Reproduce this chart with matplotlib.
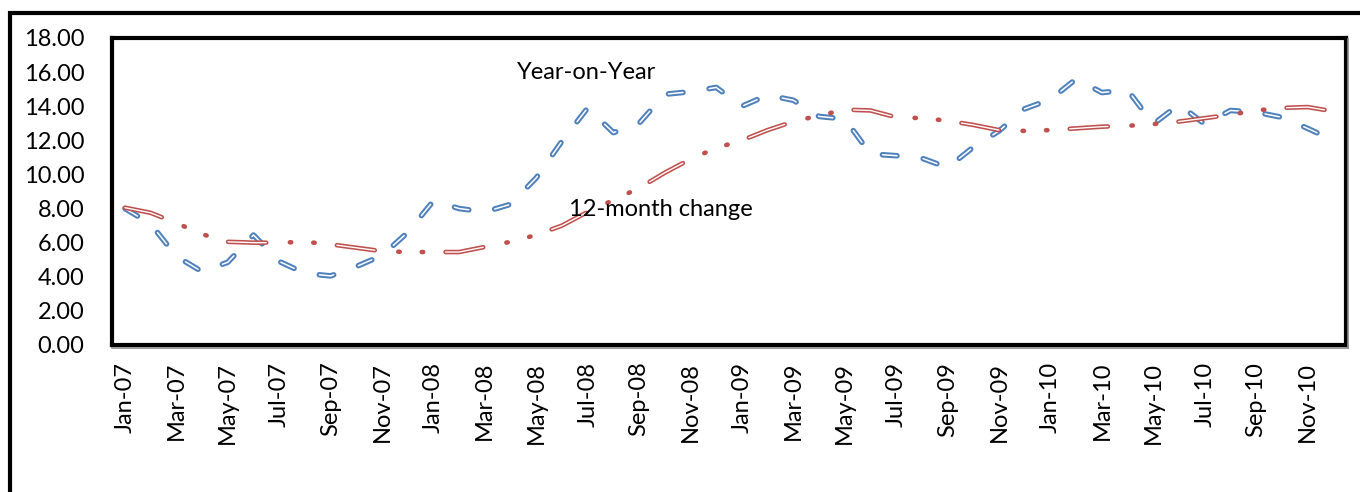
import matplotlib
matplotlib.use("Agg")
import matplotlib.pyplot as plt
from matplotlib.patches import Rectangle
from matplotlib.lines import Line2D

plt.rcParams['font.family'] = ['Lato', 'DejaVu Sans']
plt.rcParams['lines.scale_dashes'] = False

months = [f"{m}-{y:02d}" for y in (7, 8, 9, 10)
          for m in ("Jan", "Feb", "Mar", "Apr", "May", "Jun",
                    "Jul", "Aug", "Sep", "Oct", "Nov", "Dec")]

year_on_year = [8.0, 7.1, 5.2, 4.3, 4.85, 6.45, 4.9, 4.2, 4.05, 4.6, 5.25, 6.6,
                8.45, 8.0, 7.8, 8.25, 9.8, 11.95, 13.9, 12.45, 13.0, 14.7, 14.85, 15.1,
                14.0, 14.65, 14.35, 13.4, 13.25, 11.2, 11.1, 10.95, 10.4, 11.6, 12.55, 13.85,
                14.4, 15.6, 14.8, 14.95, 12.95, 14.1, 12.95, 13.75, 13.65, 13.35, 12.7, 12.0]

month_change = [8.05, 7.75, 7.15, 6.5, 6.05, 6.0, 6.0, 6.05, 5.9, 5.7, 5.5, 5.45,
                5.45, 5.45, 5.75, 6.05, 6.45, 7.0, 7.8, 8.5, 9.2, 10.1, 10.9, 11.55,
                12.0, 12.6, 13.1, 13.45, 13.8, 13.75, 13.35, 13.3, 13.15, 12.9, 12.6, 12.55,
                12.6, 12.7, 12.8, 12.85, 12.95, 13.1, 13.3, 13.5, 13.75, 13.9, 13.95, 13.7]

blue = '#4F81BD'
red = '#C0504D'

fig = plt.figure(figsize=(13.6, 4.92), dpi=100)
ax = fig.add_axes([0.0824, 0.2988, 0.9074, 0.624])

x = list(range(len(months)))

# "double" compound lines: thick coloured stroke with a thin white core
blue_dash = (10.5, 19.0)
ax.plot(x, year_on_year, color=blue, lw=4.0, dashes=blue_dash,
        dash_capstyle='round', dash_joinstyle='round')
ax.plot(x, year_on_year, color='white', lw=1.1, dashes=blue_dash,
        dash_capstyle='round', dash_joinstyle='round')

# long dash, dot, dot; the white core only runs through the long dash
red_dash = (27.5, 17.0, 1.0, 15.9, 1.0, 16.1)
red_core = (27.5, sum(red_dash) - 27.5)
ax.plot(x, month_change, color=red, lw=3.3, dashes=red_dash,
        dash_capstyle='round', dash_joinstyle='round')
ax.plot(x, month_change, color='white', lw=1.0, dashes=red_core,
        dash_capstyle='round', dash_joinstyle='round')

ax.text(15.25, 16.0, "Year-on-Year", fontsize=17, ha='left', va='center')
ax.text(17.27, 7.97, "12-month change", fontsize=17, ha='left', va='center')

ax.set_xlim(-0.5, len(months) - 0.5)
ax.set_ylim(0, 18)
ax.set_yticks(range(0, 19, 2))
ax.set_yticklabels([f"{v:.2f}" for v in range(0, 19, 2)], fontsize=17)
ax.set_xticks(x[::2])
ax.set_xticklabels(months[::2], rotation=90, fontsize=17)
ax.tick_params(axis='y', length=0, pad=20)
ax.tick_params(axis='x', length=0, pad=12)

for s in ax.spines.values():
    s.set_linewidth(3.0)
    s.set_color('black')

# light shadow under the plot frame
fig.add_artist(Line2D([0.0824, 0.9915], [0.2925, 0.2925], color='#8c8c8c', lw=1.2))
fig.add_artist(Line2D([0.9915, 0.9915], [0.2925, 0.92], color='#8c8c8c', lw=1.2))

# outer chart frame (top and left edges visible)
fig.add_artist(Rectangle((0.0074, -0.2), 1.2, 1.1736, transform=fig.transFigure,
                         fill=False, edgecolor='black', lw=3.0))

fig.savefig("out.png", dpi=100)
